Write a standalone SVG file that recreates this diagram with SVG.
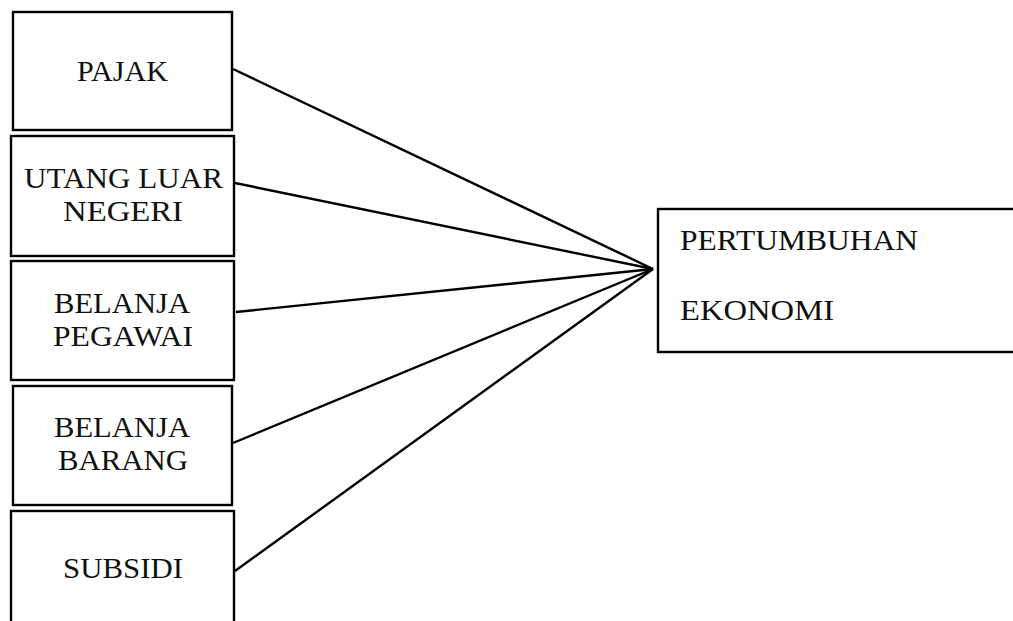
<svg xmlns="http://www.w3.org/2000/svg" width="1013" height="621" viewBox="0 0 1013 621">
<style>
.box{fill:#fff;stroke:#000;stroke-width:2.4}
.t{font-family:'Liberation Serif','DejaVu Serif',serif;font-size:29px;fill:#111}
.c{fill:none;stroke:#000;stroke-width:2.4}
</style>
<rect width="1013" height="621" fill="#fff"/>
<g id="connectors">
<line class="c" x1="233" y1="69" x2="653" y2="269"/>
<line class="c" x1="235" y1="183" x2="653" y2="269"/>
<line class="c" x1="236" y1="312" x2="653" y2="269"/>
<line class="c" x1="233" y1="443" x2="653" y2="269"/>
<line class="c" x1="235" y1="571" x2="653" y2="269"/>
</g>
<g id="pajak">
<rect class="box" x="13" y="12" width="219" height="118"/>
<text class="t" x="77" y="81" textLength="91" lengthAdjust="spacingAndGlyphs">PAJAK</text>
</g>
<g id="utang">
<rect class="box" x="11" y="136" width="223" height="120"/>
<text class="t" x="24" y="188" textLength="199" lengthAdjust="spacingAndGlyphs">UTANG LUAR</text>
<text class="t" x="63" y="221" textLength="120" lengthAdjust="spacingAndGlyphs">NEGERI</text>
</g>
<g id="pegawai">
<rect class="box" x="11" y="261" width="223" height="119"/>
<text class="t" x="54" y="313" textLength="136" lengthAdjust="spacingAndGlyphs">BELANJA</text>
<text class="t" x="53" y="346" textLength="140" lengthAdjust="spacingAndGlyphs">PEGAWAI</text>
</g>
<g id="barang">
<rect class="box" x="13" y="386" width="219" height="119"/>
<text class="t" x="54" y="437" textLength="136" lengthAdjust="spacingAndGlyphs">BELANJA</text>
<text class="t" x="58" y="470" textLength="130" lengthAdjust="spacingAndGlyphs">BARANG</text>
</g>
<g id="subsidi">
<rect class="box" x="11" y="511" width="223" height="130"/>
<text class="t" x="63" y="578" textLength="120" lengthAdjust="spacingAndGlyphs">SUBSIDI</text>
</g>
<g id="pertumbuhan">
<rect class="box" x="658" y="209" width="380" height="143"/>
<text class="t" x="680" y="250" textLength="238" lengthAdjust="spacingAndGlyphs">PERTUMBUHAN</text>
<text class="t" x="680" y="320" textLength="154" lengthAdjust="spacingAndGlyphs">EKONOMI</text>
</g>
</svg>
